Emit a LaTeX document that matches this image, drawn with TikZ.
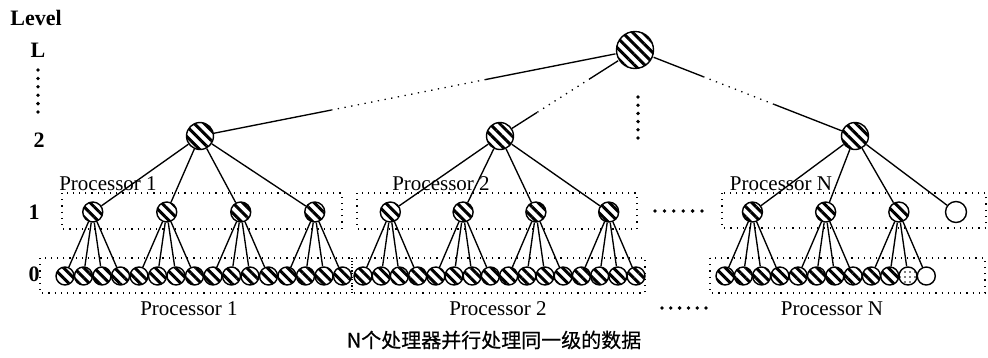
\documentclass[tikz,border=0pt]{standalone}
\usepackage{fontspec}
\setmainfont{Liberation Serif}
\newfontfamily\cjk[FakeBold=0.6]{Noto Sans CJK SC}
\usetikzlibrary{patterns.meta}

\tikzset{
  hatch/.style={circle, draw, line width=1.4pt, inner sep=0pt,
    pattern={Lines[angle=-45,distance=7.2pt,line width=3pt]}},
  rootnode/.style={hatch, minimum size=37pt},
  lvltwo/.style={hatch, minimum size=27pt},
  lvlone/.style={hatch, minimum size=20pt},
  leaf/.style={hatch, minimum size=18pt},
  emptyleaf/.style={circle, draw, line width=1.4pt, inner sep=0pt, minimum size=18pt},
  dotleaf/.style={emptyleaf, pattern={Dots[distance=5pt,radius=0.8pt]}},
  emptyone/.style={circle, draw, line width=1.4pt, inner sep=0pt, minimum size=21pt},
  edge/.style={line width=1.35pt},
  dotedge/.style={line width=1.3pt, dash pattern=on 1.3pt off 5.5pt},
  procbox/.style={line width=1.1pt, dash pattern=on 1.2pt off 5pt},
  proclabel/.style={font=\fontsize{21}{24}\selectfont, inner sep=0pt},
  levellabel/.style={font=\fontsize{22}{26}\selectfont\bfseries, inner sep=0pt},
  bigdot/.style={circle, fill, inner sep=0pt, minimum size=3.8pt},
}

\begin{document}
\begin{tikzpicture}[x=1pt,y=-1pt]
\useasboundingbox (0,0) rectangle (988,357);

% dotted processor boxes
\draw[procbox] (62,193) rectangle (342,229);
\draw[procbox] (357,193) rectangle (637,229);
\draw[procbox] (722,193) rectangle (986,228);
\draw[procbox] (40,258) rectangle (352,293);
\draw[procbox] (352,258) rectangle (645,293);
\draw[procbox] (710,258) rectangle (985,293);

% level labels
\node[levellabel] (lvl) at (36,18) {Level};
\node[levellabel] (lvlL) at (38,50) {L};
\node[levellabel] (lvl2) at (39,140) {2};
\node[levellabel] (lvl1) at (34,212) {1};
\node[levellabel] (lvl0) at (34,274) {0};
\foreach \k in {0,...,5} \node[bigdot] (vl\k) at (38,{70+8.4*\k}) {};
\foreach \k in {0,...,5} \node[bigdot] (vm\k) at (638,{97+8.2*\k}) {};
\foreach \k in {0,...,5} \node[bigdot] (hu\k) at ({655+9.4*\k},211) {};
\foreach \k in {0,...,5} \node[bigdot] (hb\k) at ({662+8.8*\k},308) {};

% tree nodes
\node[rootnode] (root) at (635,50) {};
\node[lvltwo] (L2a) at (200,136) {};
\node[lvltwo] (L2b) at (500,136) {};
\node[lvltwo] (L2c) at (855,136) {};

% leaves
\foreach \i in {0,...,15} \node[leaf] (a\i) at ({65+18.5*\i},276) {};
\foreach \i in {0,...,15} \node[leaf] (b\i) at ({363+18.2*\i},276) {};
\foreach \i in {0,...,9} \node[leaf] (c\i) at ({725+18.3*\i},276) {};
\node[dotleaf] (c10) at ({725+18.3*10},276) {};
\node[emptyleaf] (c11) at ({725+18.3*11},276) {};

% level-1 nodes and their edges
\foreach \j in {0,...,3} {
  \node[lvlone] (A\j) at ({65+18.5*(4*\j+1.5)},212) {};
  \node[lvlone] (B\j) at ({363+18.2*(4*\j+1.5)},212) {};
  \draw[edge] (L2a) -- (A\j);
  \draw[edge] (L2b) -- (B\j);
  \foreach \k in {0,...,3} {
    \pgfmathtruncatemacro{\n}{4*\j+\k}
    \draw[edge] (A\j) -- (a\n);
    \draw[edge] (B\j) -- (b\n);
  }
}
\foreach \j in {0,...,2} {
  \node[lvlone] (C\j) at ({725+18.3*(4*\j+1.5)},212) {};
  \draw[edge] (L2c) -- (C\j);
  \foreach \k in {0,...,3} {
    \pgfmathtruncatemacro{\n}{4*\j+\k}
    \draw[edge] (C\j) -- (c\n);
  }
}
\node[emptyone] (C3) at (956,212) {};
\draw[edge] (L2c) -- (C3);

% root to level-2 edges: solid, dotted, solid
\path (root.center) -- (L2a.center) coordinate[pos=0.343] (ra1) coordinate[pos=0.698] (ra2);
\path (root.center) -- (L2b.center) coordinate[pos=0.333] (rb1) coordinate[pos=0.726] (rb2);
\path (root.center) -- (L2c.center) coordinate[pos=0.31] (rc1) coordinate[pos=0.633] (rc2);
\draw[edge] (root) -- (ra1);
\draw[dotedge] (ra1) -- (ra2);
\draw[edge] (ra2) -- (L2a);
\draw[edge] (root) -- (rb1);
\draw[dotedge] (rb1) -- (rb2);
\draw[edge] (rb2) -- (L2b);
\draw[edge] (root) -- (rc1);
\draw[dotedge] (rc1) -- (rc2);
\draw[edge] (rc2) -- (L2c);

% processor labels
\node[proclabel] (pu1) at (108,184) {Processor 1};
\node[proclabel] (pu2) at (441,184) {Processor 2};
\node[proclabel] (puN) at (781,184) {Processor N};
\node[proclabel] (pb1) at (189,309) {Processor 1};
\node[proclabel] (pb2) at (498,309) {Processor 2};
\node[proclabel] (pbN) at (832,309) {Processor N};

% caption
\node[font=\cjk\fontsize{20}{24}\selectfont, inner sep=0pt] (cap) at (494,340) {N个处理器并行处理同一级的数据};
\end{tikzpicture}
\end{document}
